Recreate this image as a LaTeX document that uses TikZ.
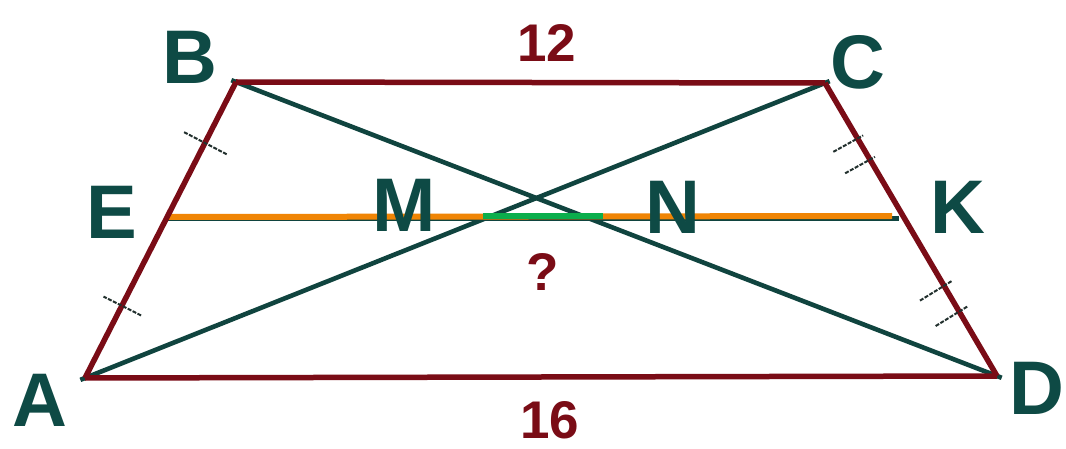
\documentclass[tikz,border=0pt]{standalone}
\usepackage{fontspec}
\setmainfont{Liberation Sans}
\usetikzlibrary{calc}
\definecolor{sidered}{HTML}{7A0C16}
\definecolor{diagteal}{HTML}{10443F}
\definecolor{labteal}{HTML}{0E4A45}
\definecolor{midorange}{HTML}{F08505}
\definecolor{midgreen}{HTML}{0BAE4C}
\definecolor{tickgray}{HTML}{22302E}
\begin{document}
\begin{tikzpicture}[x=1pt,y=-1pt,
  side/.style={draw=sidered,line width=5.5pt},
  diag/.style={draw=diagteal,line width=4.6pt,shorten <=-5pt,shorten >=-5pt},
  lab/.style={text=labteal,inner sep=0pt,font=\fontsize{76}{76}\selectfont\bfseries},
  num/.style={text=sidered,inner sep=0pt,font=\fontsize{53}{53}\selectfont\bfseries},
  tickmark/.style={draw=tickgray,line width=2pt,dash pattern=on 4pt off 1.5pt}]
\useasboundingbox (0,0) rectangle (1066,449);
\fill[white] (0,0) rectangle (1066,449);
% vertices
\coordinate (A) at (85,378);
\coordinate (B) at (236,82);
\coordinate (C) at (825,83);
\coordinate (D) at (997,376);
\coordinate (E) at (166,217);
\coordinate (K) at (899,217);
\coordinate (Ko) at (892,216);
\coordinate (Mg) at (483,216);
\coordinate (Ng) at (603,216);
% diagonals
\draw[diag] (A) -- (C);
\draw[diag] (B) -- (D);
% midline
\draw[draw=diagteal,line width=5pt] ($(E)+(0,1.5)$) -- ($(K)+(0,1.5)$);
\draw[draw=midorange,line width=6pt] (E) -- (Ko);
\draw[draw=midgreen,line width=6pt] (Mg) -- (Ng);
% sides
\draw[side] (B) -- (C);
\draw[side] (A) -- (D);
\draw[side] (A) -- (B);
\draw[side] (C) -- (D);
% ticks
\coordinate (t1) at ($(B)!0.45!(E)$);
\coordinate (t2) at ($(E)!0.55!(A)$);
\draw[tickmark] ($(t1)!25pt!90:(E)$) -- ($(t1)!24pt!-90:(E)$);
\draw[tickmark] ($(t2)!22pt!90:(A)$) -- ($(t2)!20pt!-90:(A)$);
\coordinate (t3) at ($(C)!0.42!(K)$);
\coordinate (t4) at ($(C)!0.58!(K)$);
\draw[tickmark] ($(t3)!26pt!-90:(K)$) -- ($(t3)!8pt!90:(K)$);
\draw[tickmark] ($(t4)!26pt!-90:(K)$) -- ($(t4)!8pt!90:(K)$);
\coordinate (t5) at ($(K)!0.44!(D)$);
\coordinate (t6) at ($(K)!0.60!(D)$);
\draw[tickmark] ($(t5)!26pt!-90:(D)$) -- ($(t5)!12pt!90:(D)$);
\draw[tickmark] ($(t6)!26pt!-90:(D)$) -- ($(t6)!12pt!90:(D)$);
% labels
\node[lab] (lB) at (190,57) {B};
\node[lab] (lC) at (858,62) {C};
\node[lab] (lE) at (112,212) {E};
\node[lab] (lM) at (404,205) {M};
\node[lab] (lN) at (673,207) {N};
\node[lab] (lK) at (958,207) {K};
\node[lab] (lA) at (40,400) {A};
\node[lab] (lD) at (1037,388) {D};
\node[num] (n12) at (547,43) {12};
\node[num] (n16) at (550,420) {16};
\node[num] (nq) at (543,272) {?};
\end{tikzpicture}
\end{document}
